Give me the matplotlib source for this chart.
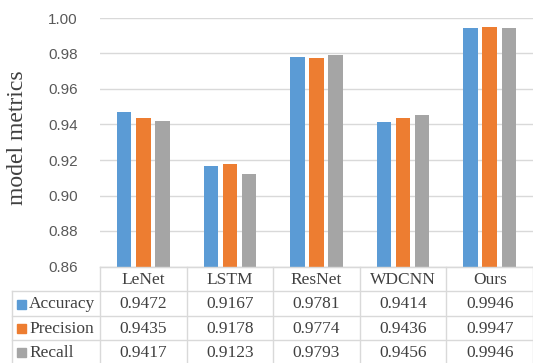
import numpy as np
import matplotlib.pyplot as plt

models = ['LeNet', 'LSTM', 'ResNet', 'WDCNN', 'Ours']
metrics = ['Accuracy', 'Precision', 'Recall']
accuracy = [0.9472, 0.9167, 0.9781, 0.9414, 0.9946]
precision = [0.9435, 0.9178, 0.9774, 0.9436, 0.9947]
recall = [0.9417, 0.9123, 0.9793, 0.9456, 0.9946]
colors = ['#5B9BD5', '#ED7D31', '#A5A5A5']

W, H = 533, 363
fig = plt.figure(figsize=(W / 100, H / 100), dpi=100)

# plot area in pixels
x0, x1 = 100, 533
y_top, y_bot = 18, 266.5
ax = fig.add_axes([x0 / W, 1 - y_bot / H, (x1 - x0) / W, (y_bot - y_top) / H])

series = [accuracy, precision, recall]
x = np.arange(len(models))
bw, step = 0.167, 0.22
for i, (vals, c) in enumerate(zip(series, colors)):
    ax.bar(x + (i - 1) * step, vals, bw, color=c, zorder=3)

ax.set_xlim(-0.5, len(models) - 0.5)
ax.set_ylim(0.86, 1.00)
ax.set_yticks(np.arange(0.86, 1.001, 0.02))
ax.set_yticklabels([f'{v:.2f}' for v in np.arange(0.86, 1.001, 0.02)],
                   family='Liberation Sans', fontsize=11, color='#595959')
ax.tick_params(axis='y', length=0, pad=16)
ax.set_xticks([])
ax.grid(axis='y', color='#D9D9D9', linewidth=1, zorder=0)
for s in ['top', 'right', 'left']:
    ax.spines[s].set_visible(False)
ax.spines['bottom'].set_color('#D9D9D9')
ax.patch.set_alpha(0)

fig.text(18 / W, 1 - 138 / H, 'model metrics', rotation=90, ha='center', va='center',
         family='Liberation Serif', fontsize=17, color='#404040')

# data table below the chart
tb = fig.add_axes([0, 0, 1, 1])
tb.set_xlim(0, W)
tb.set_ylim(H, 0)
tb.axis('off')
tb.patch.set_alpha(0)

line_c = '#D9D9D9'
row_y = [266.5, 291, 316, 340, 364]
col_x = [x0 + k * (x1 - x0) / len(models) for k in range(len(models) + 1)]
left = 12
tb.plot([x0, x1], [row_y[0], row_y[0]], color=line_c, lw=1)
for y in row_y[1:]:
    tb.plot([left, x1], [y, y], color=line_c, lw=1)
tb.plot([left, left], [row_y[1], H], color=line_c, lw=1)
for cx in col_x:
    tb.plot([cx, cx], [row_y[0], H], color=line_c, lw=1)

txt = dict(family='Liberation Serif', fontsize=12.5, color='#404040', va='center')
for j, m in enumerate(models):
    cx = (col_x[j] + col_x[j + 1]) / 2
    tb.text(cx, (row_y[0] + row_y[1]) / 2 + 1, m, ha='center', **txt)
for i, (name, vals, c) in enumerate(zip(metrics, series, colors)):
    cy = (row_y[i + 1] + row_y[i + 2]) / 2 + 1
    tb.add_patch(plt.Rectangle((17, cy - 5), 9, 9, color=c))
    tb.text(29, cy, name, ha='left', **txt)
    for j, v in enumerate(vals):
        cx = (col_x[j] + col_x[j + 1]) / 2
        tb.text(cx, cy, f'{v:.4f}', ha='center', **txt)

fig.savefig('out.png', dpi=100)
